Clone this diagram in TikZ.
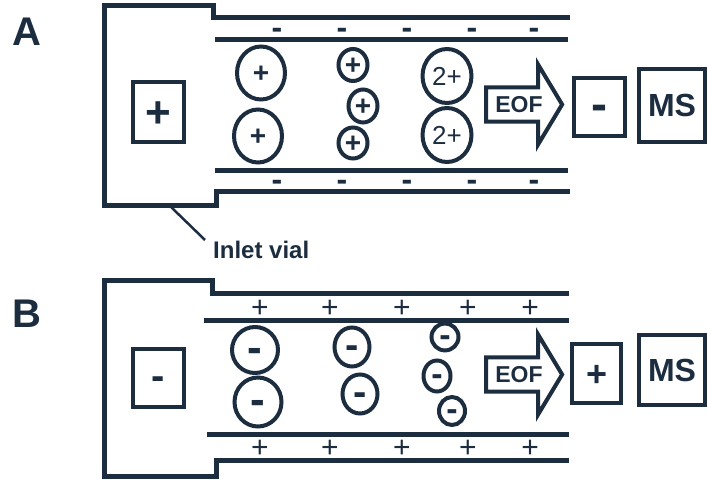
\documentclass[tikz,border=0pt]{standalone}
\usepackage{fontspec}
\setmainfont{Liberation Sans}
\usepackage{xcolor}
\usepackage{tikz}
\usetikzlibrary{shapes,arrows,positioning}
\definecolor{ink}{RGB}{28,45,64}
\newcommand{\fsz}[1]{\fontsize{#1}{#1}\selectfont}

\begin{document}
\begin{tikzpicture}[
    x=1pt, y=-1pt,
    wall/.style={draw=ink, line width=5pt},
    ion/.style 2 args={ellipse, draw=ink, line width=4pt, inner sep=0pt, text=ink, minimum width=#1, minimum height=#2},
    electrode/.style 2 args={rectangle, draw=ink, line width=4pt, inner sep=0pt, text=ink, minimum width=#1, minimum height=#2},
    cation/.style={font=\bfseries\fsz{28}, text height=19.8pt, text depth=0pt},
    dication/.style={font=\fsz{26}, text height=18.6pt, text depth=0pt},
    anionL/.style={font=\bfseries\fsz{44}, text height=24.6pt, text depth=0pt},
    anionM/.style={font=\bfseries\fsz{40}, text height=22.4pt, text depth=0pt},
    anionS/.style={font=\bfseries\fsz{34}, text height=19pt, text depth=0pt},
    wallneg/.style={font=\bfseries\fsz{32}, text height=18pt, text depth=0pt, inner sep=0pt, text=ink},
    wallpos/.style={font=\fsz{30}, text height=21.2pt, text depth=0pt, inner sep=0pt, text=ink},
    eof/.style={single arrow, draw=ink, line width=4pt, text=ink, font=\bfseries\fsz{23},
        text height=16.5pt, text depth=0pt, inner xsep=1pt, inner ysep=6.8pt,
        single arrow head extend=23pt, single arrow tip angle=118, minimum height=76pt},
    panel/.style={font=\bfseries\fsz{40}, text=ink, inner sep=0pt}
]
    \useasboundingbox (0,0) rectangle (708,481);

    % panel A
    \node[panel] (labA) at (27,32) {A};
    \draw[wall] (570,18) -- (213,18) -- (213,6) -- (104,6) -- (104,205) -- (216,205) -- (216,191) -- (570,191);
    \draw[wall] (215,40) -- (568,40);
    \draw[wall] (215,170) -- (568,170);

    \node[wallneg] (wA1) at (277,30) {-};
    \node[wallneg] (wA2) at (342,30) {-};
    \node[wallneg] (wA3) at (407,30) {-};
    \node[wallneg] (wA4) at (472,30) {-};
    \node[wallneg] (wA5) at (534,30) {-};
    \node[wallneg] (wA6) at (277,181) {-};
    \node[wallneg] (wA7) at (342,181) {-};
    \node[wallneg] (wA8) at (407,181) {-};
    \node[wallneg] (wA9) at (472,181) {-};
    \node[wallneg] (wA10) at (534,181) {-};

    \node[electrode={51pt}{60pt}, font=\bfseries\fsz{44}, text height=31pt, text depth=0pt] (anodeA) at (158.5,112) {+};

    \node[ion={48pt}{53pt}, cation] (ionA1) at (261,73) {+};
    \node[ion={48pt}{53pt}, cation] (ionA2) at (258,136) {+};
    \node[ion={29pt}{32pt}, cation] (ionA3) at (353,65) {+};
    \node[ion={29pt}{33pt}, cation] (ionA4) at (363,106) {+};
    \node[ion={29pt}{31pt}, cation] (ionA5) at (353,143) {+};
    \node[ion={49pt}{54pt}, dication] (ionA6) at (447,76) {2+};
    \node[ion={49pt}{54pt}, dication] (ionA7) at (447,135) {2+};

    \node[eof] (eofA) at (519,104.5) {EOF};
    \node[electrode={51pt}{58pt}, font=\bfseries\fsz{48}, text height=26.9pt, text depth=0pt] (cathodeA) at (599.5,107) {-};
    \node[electrode={66pt}{73pt}, font=\bfseries\fsz{32}] (msA) at (672,105.5) {MS};

    \coordinate (vialbot) at (170,206);
    \node[font=\bfseries\fsz{24}, text=ink, inner xsep=8pt, inner ysep=1pt, anchor=west] (inlet) at (205,250) {Inlet vial};
    \draw[ink, line width=2.5pt] (vialbot) -- (inlet.north west);

    % panel B
    \node[panel] (labB) at (27,314) {B};
    \draw[wall] (569,293) -- (212,293) -- (212,280) -- (104,280) -- (104,476) -- (216,476) -- (216,460) -- (569,460);
    \draw[wall] (204,320) -- (569,320);
    \draw[wall] (207,434) -- (569,434);

    \node[wallpos] (wB1) at (260,307) {+};
    \node[wallpos] (wB2) at (330,307) {+};
    \node[wallpos] (wB3) at (402,307) {+};
    \node[wallpos] (wB4) at (468,307) {+};
    \node[wallpos] (wB5) at (530,307) {+};
    \node[wallpos] (wB6) at (260,447) {+};
    \node[wallpos] (wB7) at (330,447) {+};
    \node[wallpos] (wB8) at (402,447) {+};
    \node[wallpos] (wB9) at (468,447) {+};
    \node[wallpos] (wB10) at (530,447) {+};

    \node[electrode={51pt}{58pt}, anionM] (cathodeB) at (158.5,378) {-};

    \node[ion={46pt}{46pt}, anionL] (ionB1) at (255,350) {-};
    \node[ion={47pt}{49pt}, anionL] (ionB2) at (258,402) {-};
    \node[ion={35pt}{39pt}, anionM] (ionB3) at (352,347) {-};
    \node[ion={35pt}{39pt}, anionM] (ionB4) at (360,394) {-};
    \node[ion={27pt}{26pt}, anionS] (ionB5) at (445,337) {-};
    \node[ion={27pt}{31pt}, anionS] (ionB6) at (437,376) {-};
    \node[ion={26pt}{28pt}, anionS] (ionB7) at (452,411) {-};

    \node[eof] (eofB) at (519,374.5) {EOF};
    \node[electrode={49pt}{59pt}, font=\bfseries\fsz{36}, text height=25.4pt, text depth=0pt] (anodeB) at (596.5,373.5) {+};
    \node[electrode={66pt}{70pt}, font=\bfseries\fsz{32}] (msB) at (672,370) {MS};
\end{tikzpicture}
\end{document}
